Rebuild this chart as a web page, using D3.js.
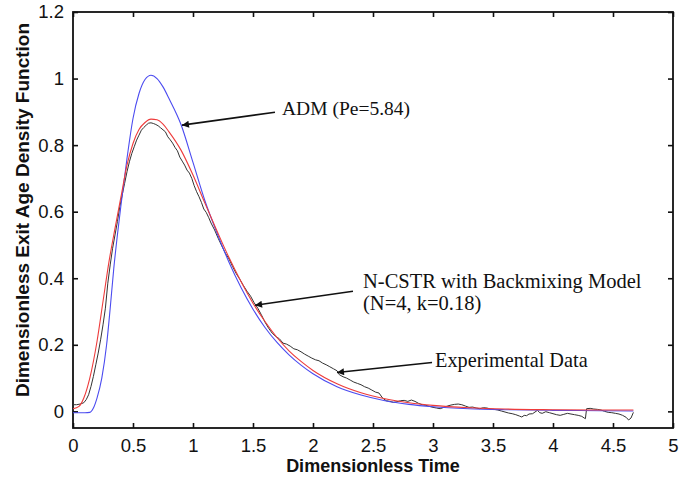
<!DOCTYPE html>
<html lang="en">
<head>
<meta charset="utf-8">
<style>
  body { margin: 0; background: white; }
  svg { background-color: white; font-family: 'Liberation Sans', Arial, sans-serif; }
  .tick text { font-size: 18.5px; fill: #111; }
  text.title { font-size: 18px; font-weight: bold; fill: #111; }
  text.ytitle { font-size: 19px; }
  text.note { font-family: 'Liberation Serif', 'Times New Roman', serif; font-size: 20px; fill: #111; }
</style>
</head>
<body>
<div id="my_dataviz"></div>
<script src="https://d3js.org/d3.v7.min.js"></script>
<script>

// axis ticks
var xTicks = [0, 0.5, 1, 1.5, 2, 2.5, 3, 3.5, 4, 4.5, 5];
var yTicks = [0, 0.2, 0.4, 0.6, 0.8, 1, 1.2];

// ADM (Pe=5.84) - blue curve
var admT = [0, 0.05, 0.1, 0.14, 0.17, 0.2, 0.24, 0.28, 0.31, 0.34, 0.37, 0.4, 0.45, 0.5, 0.55, 0.6, 0.65, 0.7, 0.75, 0.8, 0.9,
  1.0, 1.1, 1.2, 1.3, 1.4, 1.5, 1.6, 1.7, 1.8, 1.9, 2.0, 2.2, 2.4, 2.6, 2.8, 3.0, 3.3, 3.6, 4.0, 4.4, 4.67];
var admE = [-0.004, -0.004, -0.004, -0.003, 0.01, 0.04, 0.10, 0.20, 0.31, 0.43, 0.53, 0.62, 0.76, 0.88, 0.955, 0.997, 1.01, 1.0, 0.975, 0.94, 0.862,
  0.748, 0.632, 0.536, 0.448, 0.372, 0.307, 0.252, 0.207, 0.170, 0.139, 0.113, 0.074, 0.049, 0.032, 0.021, 0.014, 0.008, 0.005, 0.003, 0.002, 0.001];

// N-CSTR with backmixing (N=4, k=0.18) - red curve
var cstrT = [0, 0.05, 0.09, 0.14, 0.2, 0.25, 0.3, 0.35, 0.4, 0.45, 0.5, 0.55, 0.6, 0.65, 0.7, 0.75, 0.8, 0.9,
  1.0, 1.1, 1.2, 1.3, 1.4, 1.5, 1.6, 1.7, 1.8, 1.9, 2.0, 2.2, 2.4, 2.6, 2.8, 3.0, 3.3, 3.6, 4.0, 4.4, 4.67];
var cstrE = [0.008, 0.015, 0.04, 0.10, 0.21, 0.33, 0.45, 0.55, 0.645, 0.74, 0.805, 0.847, 0.868, 0.878, 0.876, 0.863, 0.84, 0.785,
  0.71, 0.625, 0.542, 0.462, 0.39, 0.325, 0.27, 0.222, 0.182, 0.15, 0.123, 0.083, 0.056, 0.038, 0.026, 0.018, 0.011, 0.007, 0.005, 0.004, 0.004];

// experimental data - black curve
var expT = [0, 0.03, 0.06, 0.09, 0.11, 0.13, 0.15, 0.17, 0.19, 0.21, 0.23, 0.25, 0.27, 0.29, 0.31, 0.33, 0.35, 0.37, 0.39,
  0.41, 0.43, 0.45, 0.47, 0.49, 0.51, 0.53, 0.55, 0.57, 0.59, 0.61, 0.63, 0.65, 0.67, 0.69, 0.71, 0.73, 0.75, 0.77, 0.79,
  0.81, 0.83, 0.85, 0.87, 0.89, 0.91, 0.93, 0.95, 0.97, 0.99, 1.01, 1.03, 1.05, 1.07, 1.09, 1.11, 1.13, 1.15, 1.18,
  1.21, 1.24, 1.27, 1.30, 1.33, 1.36, 1.39, 1.42, 1.45, 1.48, 1.51, 1.54, 1.57, 1.60, 1.63, 1.66, 1.69, 1.72, 1.75,
  1.78, 1.81, 1.84, 1.87, 1.90, 1.93, 1.96, 1.99, 2.02, 2.05, 2.08, 2.11, 2.14, 2.17, 2.20, 2.22, 2.25, 2.28, 2.31,
  2.34, 2.37, 2.40, 2.43, 2.46, 2.49, 2.52, 2.55, 2.58, 2.61, 2.64, 2.67, 2.70, 2.73, 2.76, 2.79, 2.82, 2.85, 2.88,
  2.91, 2.94, 2.97, 3.00, 3.03, 3.06, 3.09, 3.12, 3.15, 3.18, 3.21, 3.24, 3.27, 3.30, 3.33, 3.36, 3.39, 3.42, 3.45,
  3.48, 3.51, 3.54, 3.57, 3.60, 3.63, 3.66, 3.69, 3.72, 3.74, 3.76, 3.78, 3.80, 3.83, 3.85, 3.87, 3.89, 3.91, 3.94,
  3.97, 4.00, 4.03, 4.06, 4.09, 4.12, 4.15, 4.18, 4.21, 4.24, 4.26, 4.27, 4.28, 4.31, 4.34, 4.37, 4.40, 4.43, 4.46,
  4.49, 4.52, 4.55, 4.58, 4.61, 4.63, 4.65, 4.67];
var expE = [0.02, 0.02, 0.022, 0.026, 0.035, 0.05, 0.075, 0.105, 0.14, 0.175, 0.215, 0.26, 0.31, 0.385, 0.44, 0.49, 0.53, 0.57, 0.615,
  0.65, 0.685, 0.72, 0.75, 0.775, 0.795, 0.815, 0.83, 0.845, 0.853, 0.86, 0.866, 0.867, 0.865, 0.862, 0.858, 0.852, 0.846, 0.84, 0.825,
  0.816, 0.806, 0.793, 0.783, 0.764, 0.752, 0.74, 0.725, 0.716, 0.7, 0.678, 0.66, 0.645, 0.628, 0.608, 0.598, 0.583, 0.566, 0.545,
  0.52, 0.497, 0.475, 0.458, 0.435, 0.414, 0.397, 0.378, 0.361, 0.346, 0.326, 0.31, 0.29, 0.268, 0.25, 0.235, 0.225, 0.218, 0.205,
  0.202, 0.196, 0.188, 0.185, 0.179, 0.172, 0.166, 0.16, 0.155, 0.152, 0.145, 0.14, 0.134, 0.128, 0.122, 0.11, 0.104, 0.1, 0.094,
  0.088, 0.084, 0.08, 0.074, 0.07, 0.064, 0.058, 0.055, 0.04, 0.032, 0.03, 0.027, 0.029, 0.032, 0.033, 0.03, 0.034, 0.03, 0.024,
  0.02, 0.018, 0.015, 0.012, 0.01, 0.008, 0.012, 0.016, 0.019, 0.021, 0.022, 0.02, 0.016, 0.012, 0.013, 0.01, 0.008, 0.011, 0.01,
  0.007, 0.006, 0.004, 0.001, -0.002, -0.005, -0.007, -0.01, -0.014, -0.017, -0.012, -0.013, -0.008, -0.007, -0.002, 0.003, -0.004, -0.006, -0.001,
  -0.004, -0.007, -0.01, -0.012, -0.009, -0.006, -0.008, -0.01, -0.012, -0.015, -0.02, -0.022, 0.008, 0.009, 0.007, 0.006, 0.004, 0.0, -0.003,
  -0.004, -0.006, -0.008, -0.012, -0.018, -0.026, -0.02, -0.003];

// labels
var xTitle = "Dimensionless Time";
var yTitle = "Dimensionless Exit Age Density Function";

var W = 694, H = 485;
var margin = {top: 12, right: 21, bottom: 57, left: 73};
var width = W - margin.left - margin.right;
var height = H - margin.top - margin.bottom;

var svg = d3.select("#my_dataviz")
  .append("svg")
    .attr("width", W)
    .attr("height", H);

var g = svg.append("g")
    .attr("transform", "translate(" + margin.left + "," + margin.top + ")");

var x = d3.scaleLinear().domain([0, 5]).range([0, width]);
var y = d3.scaleLinear().domain([-0.05, 1.2]).range([height, 0]);

var fmt = function(d) { return String(+d.toFixed(1)); };

// axes, ticks pointing inward on all four sides
g.append("g")
  .attr("transform", "translate(0," + height + ")")
  .call(d3.axisBottom(x).tickValues(xTicks).tickFormat(fmt).tickSizeInner(-5).tickSizeOuter(0).tickPadding(11));
g.append("g")
  .call(d3.axisLeft(y).tickValues(yTicks).tickFormat(fmt).tickSizeInner(-5).tickSizeOuter(0).tickPadding(9));
g.append("g")
  .call(d3.axisTop(x).tickValues(xTicks).tickFormat("").tickSizeInner(-5).tickSizeOuter(0));
g.append("g")
  .attr("transform", "translate(" + width + ",0)")
  .call(d3.axisRight(y).tickValues(yTicks).tickFormat("").tickSizeInner(-5).tickSizeOuter(0));

g.selectAll(".domain").remove();
g.selectAll(".tick line").attr("stroke", "#111").attr("stroke-width", 1.6);

g.append("rect")
  .attr("width", width)
  .attr("height", height)
  .attr("fill", "none")
  .attr("stroke", "#111")
  .attr("stroke-width", 1.8);

// curves
function series(ts, es) { return ts.map(function(t, i) { return [t, es[i]]; }); }

var smooth = d3.line()
  .x(function(d) { return x(d[0]); })
  .y(function(d) { return y(d[1]); })
  .curve(d3.curveMonotoneX);
var raw = d3.line()
  .x(function(d) { return x(d[0]); })
  .y(function(d) { return y(d[1]); });

g.append("path")
  .datum(series(expT, expE))
  .attr("fill", "none")
  .attr("stroke", "#333")
  .attr("stroke-width", 1)
  .attr("d", raw);

g.append("path")
  .datum(series(admT, admE))
  .attr("fill", "none")
  .attr("stroke", "#4b4bf0")
  .attr("stroke-width", 1.1)
  .attr("d", smooth);

g.append("path")
  .datum(series(cstrT, cstrE))
  .attr("fill", "none")
  .attr("stroke", "#ee3b3b")
  .attr("stroke-width", 1.1)
  .attr("d", smooth);

// annotations with arrows
svg.append("defs").append("marker")
  .attr("id", "arrow")
  .attr("viewBox", "0 0 10 10")
  .attr("refX", 10)
  .attr("refY", 5)
  .attr("markerWidth", 9)
  .attr("markerHeight", 7)
  .attr("markerUnits", "userSpaceOnUse")
  .attr("orient", "auto")
  .append("path")
    .attr("d", "M0,0 L10,5 L0,10 z")
    .attr("fill", "#111");

var notes = [
  {lines: ["ADM (Pe=5.84)"], tx: 1.742, ty: 0.89, from: [1.683, 0.899], to: [0.908, 0.86], size: 19.5},
  {lines: ["N-CSTR with Backmixing Model", "(N=4, k=0.18)"], tx: 2.417, ty: 0.37, from: [2.333, 0.361], to: [1.517, 0.319], size: 20.5},
  {lines: ["Experimental Data"], tx: 3.017, ty: 0.132, from: [2.992, 0.147], to: [2.2, 0.117], size: 20.3}
];

notes.forEach(function(n) {
  g.append("line")
    .attr("x1", x(n.from[0])).attr("y1", y(n.from[1]))
    .attr("x2", x(n.to[0])).attr("y2", y(n.to[1]))
    .attr("stroke", "#111")
    .attr("stroke-width", 1.6)
    .attr("marker-end", "url(#arrow)");
  var t = g.append("text")
    .attr("class", "note")
    .style("font-size", n.size + "px")
    .attr("x", x(n.tx))
    .attr("y", y(n.ty));
  n.lines.forEach(function(l, i) {
    t.append("tspan").attr("x", x(n.tx)).attr("dy", i === 0 ? 0 : 22).text(l);
  });
});

// axis titles
svg.append("text")
  .attr("class", "title")
  .attr("x", margin.left + width / 2)
  .attr("y", 472)
  .attr("text-anchor", "middle")
  .text(xTitle);

svg.append("text")
  .attr("class", "title ytitle")
  .attr("transform", "translate(29," + (margin.top + 198) + ")rotate(-90)")
  .attr("text-anchor", "middle")
  .text(yTitle);

</script>
</body>
</html>
